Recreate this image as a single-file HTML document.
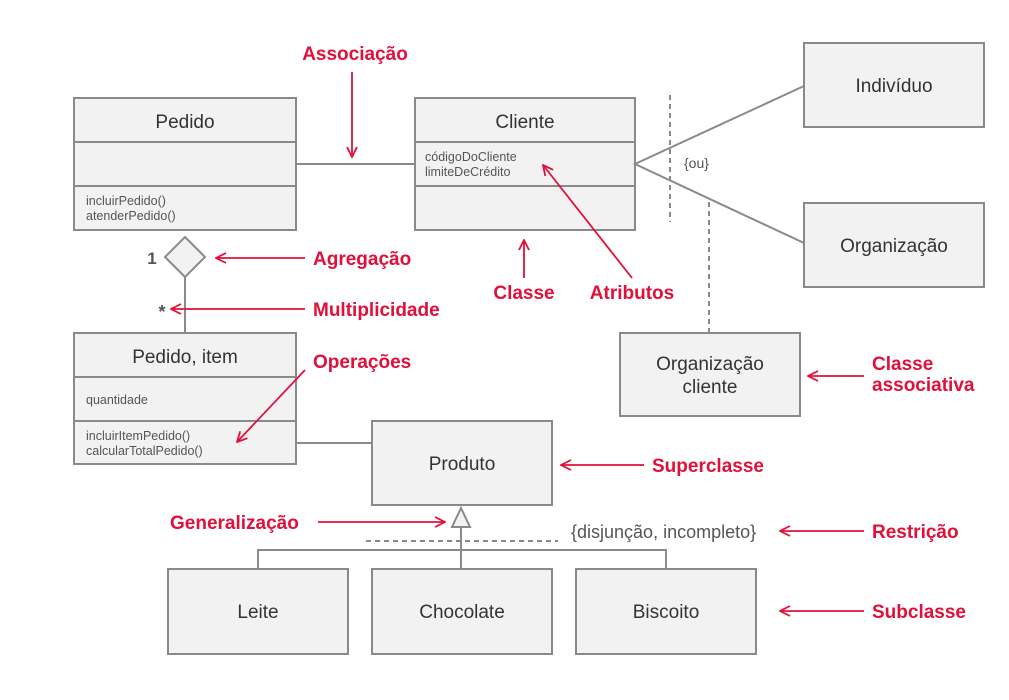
<!DOCTYPE html>
<html><head><meta charset="utf-8"><style>
html,body{margin:0;padding:0;background:#fff}
svg{display:block}
.b{fill:#f2f2f2;stroke:#8a8a8a;stroke-width:2}
.l{stroke:#8a8a8a;stroke-width:2;fill:none}
.t{font-family:"Liberation Sans",sans-serif;fill:#333;font-size:19px;text-anchor:middle}
.s{font-family:"Liberation Sans",sans-serif;fill:#555;font-size:12.5px}
.r{font-family:"Liberation Sans",sans-serif;fill:#e0103a;font-size:19px;font-weight:bold}
.ra{stroke:#e0103a;stroke-width:1.8;fill:none}
</style></head><body>
<svg width="1009" height="700" viewBox="0 0 1009 700">
<defs><marker id="a" markerWidth="12" markerHeight="12" refX="11" refY="6" orient="auto" markerUnits="userSpaceOnUse"><path d="M1,1 L11,6 L1,11" stroke="#e0103a" stroke-width="1.8" fill="none"/></marker></defs>
<rect class="b" x="74" y="98" width="222" height="132"/>
<line class="l" x1="74" y1="142" x2="296" y2="142"/><line class="l" x1="74" y1="186" x2="296" y2="186"/>
<text class="t" x="185" y="128">Pedido</text>
<text class="s" x="86" y="205">incluirPedido()</text><text class="s" x="86" y="220">atenderPedido()</text>
<rect class="b" x="415" y="98" width="220" height="132"/>
<line class="l" x1="415" y1="142" x2="635" y2="142"/><line class="l" x1="415" y1="186" x2="635" y2="186"/>
<text class="t" x="525" y="128">Cliente</text>
<text class="s" x="425" y="161">códigoDoCliente</text><text class="s" x="425" y="176">limiteDeCrédito</text>
<line class="l" x1="296" y1="164" x2="415" y2="164"/>
<rect class="b" x="804" y="43" width="180" height="84"/><text class="t" x="894" y="92">Indivíduo</text>
<rect class="b" x="804" y="203" width="180" height="84"/><text class="t" x="894" y="252">Organização</text>
<polyline class="l" points="804,86 635,164 804,243"/>
<line class="l" x1="670" y1="95" x2="670" y2="222" stroke-dasharray="5,4"/>
<text class="s" x="684" y="168" style="font-size:14px">{ou}</text>
<line class="l" x1="709" y1="202" x2="709" y2="333" stroke-dasharray="5,4"/>
<rect class="b" x="620" y="333" width="180" height="83"/>
<text class="t" x="710" y="370">Organização</text><text class="t" x="710" y="393">cliente</text>
<polygon class="b" points="185,237 205,257 185,277 165,257"/>
<line class="l" x1="185" y1="277" x2="185" y2="333"/>
<text x="152" y="264" style="font-family:'Liberation Sans',sans-serif;font-weight:bold;font-size:17px;fill:#555" text-anchor="middle">1</text>
<text x="162" y="318" style="font-family:'Liberation Sans',sans-serif;font-weight:bold;font-size:18px;fill:#555" text-anchor="middle">*</text>
<rect class="b" x="74" y="333" width="222" height="131"/>
<line class="l" x1="74" y1="377" x2="296" y2="377"/><line class="l" x1="74" y1="421" x2="296" y2="421"/>
<text class="t" x="185" y="363">Pedido, item</text>
<text class="s" x="86" y="404">quantidade</text>
<text class="s" x="86" y="440">incluirItemPedido()</text><text class="s" x="86" y="455">calcularTotalPedido()</text>
<line class="l" x1="296" y1="443" x2="372" y2="443"/>
<rect class="b" x="372" y="421" width="180" height="84"/><text class="t" x="462" y="470">Produto</text>
<line class="l" x1="461" y1="527" x2="461" y2="569"/>
<polyline class="l" points="258,569 258,550 666,550 666,569"/>
<polygon class="b" points="461,508 470,527 452,527"/>
<line class="l" x1="366" y1="541" x2="558" y2="541" stroke-dasharray="5,4"/>
<text class="s" x="571" y="538" style="font-size:18px">{disjunção, incompleto}</text>
<rect class="b" x="168" y="569" width="180" height="85"/><text class="t" x="258" y="618">Leite</text>
<rect class="b" x="372" y="569" width="180" height="85"/><text class="t" x="462" y="618">Chocolate</text>
<rect class="b" x="576" y="569" width="180" height="85"/><text class="t" x="666" y="618">Biscoito</text>
<text class="r" x="355" y="60" text-anchor="middle">Associação</text>
<line class="ra" x1="352" y1="72" x2="352" y2="157" marker-end="url(#a)"/>
<text class="r" x="313" y="265">Agregação</text>
<line class="ra" x1="305" y1="258" x2="216" y2="258" marker-end="url(#a)"/>
<text class="r" x="313" y="316">Multiplicidade</text>
<line class="ra" x1="305" y1="309" x2="171" y2="309" marker-end="url(#a)"/>
<text class="r" x="524" y="299" text-anchor="middle">Classe</text>
<line class="ra" x1="524" y1="278" x2="524" y2="240" marker-end="url(#a)"/>
<text class="r" x="632" y="299" text-anchor="middle">Atributos</text>
<line class="ra" x1="632" y1="278" x2="543" y2="165" marker-end="url(#a)"/>
<text class="r" x="313" y="368">Operações</text>
<line class="ra" x1="305" y1="370" x2="237" y2="442" marker-end="url(#a)"/>
<text class="r" x="872" y="370">Classe</text><text class="r" x="872" y="391">associativa</text>
<line class="ra" x1="864" y1="376" x2="808" y2="376" marker-end="url(#a)"/>
<text class="r" x="652" y="472">Superclasse</text>
<line class="ra" x1="644" y1="465" x2="561" y2="465" marker-end="url(#a)"/>
<text class="r" x="170" y="529">Generalização</text>
<line class="ra" x1="318" y1="522" x2="445" y2="522" marker-end="url(#a)"/>
<text class="r" x="872" y="538">Restrição</text>
<line class="ra" x1="864" y1="531" x2="780" y2="531" marker-end="url(#a)"/>
<text class="r" x="872" y="618">Subclasse</text>
<line class="ra" x1="864" y1="611" x2="780" y2="611" marker-end="url(#a)"/>
</svg>
</body></html>
